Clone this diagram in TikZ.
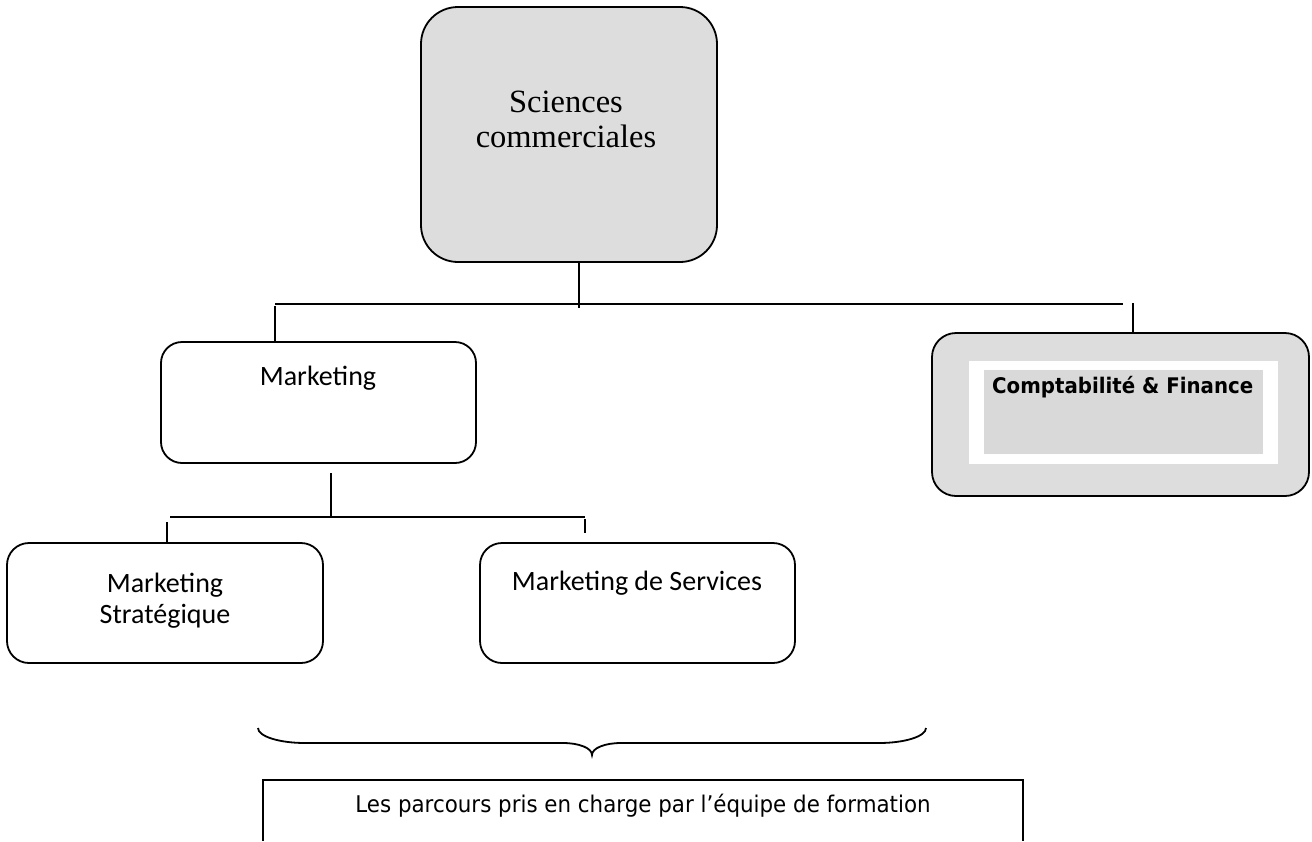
\documentclass[tikz,border=0pt]{standalone}
\usepackage{fontspec}
\setmainfont{Liberation Serif}
\newfontfamily\calfont{Carlito}
\newfontfamily\dvfont[FakeStretch=0.93]{DejaVu Sans}
\newfontfamily\dvbfont[FakeStretch=0.92]{DejaVu Sans Bold}
\definecolor{boxgrey}{HTML}{DDDDDD}
\definecolor{innergrey}{HTML}{D9D9D9}
\begin{document}
\begin{tikzpicture}[x=1pt,y=-1pt,
  box/.style={draw=black,line width=1.8pt,rectangle,inner sep=0pt},
  txt/.style={inner sep=0pt,anchor=base},
  link/.style={draw=black,line width=1.8pt},
  cal/.style={font=\calfont\fontsize{28}{34}\selectfont}]
\useasboundingbox (0,0) rectangle (1312,841);
% boxes
\node[box,fill=boxgrey,rounded corners=37pt,minimum width=296pt,minimum height=255pt] (sc) at (569,134.5) {};
\node[box,fill=white,rounded corners=21pt,minimum width=315pt,minimum height=121pt] (mk) at (318.5,402.5) {};
\node[box,fill=boxgrey,rounded corners=24pt,minimum width=377pt,minimum height=163pt] (cf) at (1120.5,414.5) {};
\node[fill=white,inner sep=0pt,minimum width=309pt,minimum height=103pt] (cfw) at (1123.5,412.5) {};
\node[fill=innergrey,inner sep=0pt,minimum width=279pt,minimum height=84pt] (cfg) at (1123.5,412) {};
\node[box,fill=white,rounded corners=22pt,minimum width=316pt,minimum height=120pt] (ms) at (165,603) {};
\node[box,fill=white,rounded corners=22pt,minimum width=315pt,minimum height=120pt] (msv) at (637.5,603) {};
% texts
\node[txt,font=\fontsize{32.5}{35}\selectfont] (sct1) at (566,112) {Sciences};
\node[txt,font=\fontsize{32.5}{35}\selectfont] (sct2) at (566,147) {commerciales};
\node[txt,cal] (mkt) at (318,385) {Marketing};
\node[txt,cal] (mst1) at (165,592) {Marketing};
\node[txt,cal] (mst2) at (165,623) {Stratégique};
\node[txt,cal] (msvt) at (637,590) {Marketing de Services};
\node[inner sep=0pt,anchor=base west,font=\dvbfont\fontsize{21.5}{26}\selectfont] (cft) at (992,393) {Comptabilité \& Finance};
% connectors
\coordinate (j1) at (579,308);
\coordinate (h1l) at (275,304);
\coordinate (h1r) at (1123,304);
\coordinate (t1r) at (1133,303);
\draw[link] (sc.south -| j1) -- (j1);
\draw[link] (h1l) -- (h1r);
\draw[link] ([yshift=-2pt]h1l) -- (mk.north -| h1l);
\draw[link] (t1r) -- (cf.north -| t1r);
\coordinate (j2a) at (331,473);
\coordinate (j2) at (331,517);
\coordinate (h2l) at (170,517);
\coordinate (h2r) at (585,517);
\coordinate (t2l) at (167,522);
\coordinate (t2r) at (585,519);
\coordinate (t2re) at (585,533);
\draw[link] (j2a) -- (j2);
\draw[link] (h2l) -- (h2r);
\draw[link] (t2l) -- (ms.north -| t2l);
\draw[link] (t2r) -- (t2re);
% brace
\draw[line width=1.8pt] (258,728) .. controls (258,736.3) and (279,743) .. (305,743) -- (563,743)
  .. controls (579,743) and (592,748) .. (592,755)
  .. controls (592,748) and (605,743) .. (621,743) -- (879,743)
  .. controls (905,743) and (926,736.3) .. (926,728);
% bottom box (open at the bottom)
\coordinate (bbl) at (263,841);
\coordinate (bbr) at (1023,841);
\draw[line width=1.5pt] (bbl) -- (263,780) -- (1023,780) -- (bbr);
\node[txt,font=\dvfont\fontsize{23}{28}\selectfont] (bbt) at (643,812) {Les parcours pris en charge par l’équipe de formation};
\end{tikzpicture}
\end{document}
